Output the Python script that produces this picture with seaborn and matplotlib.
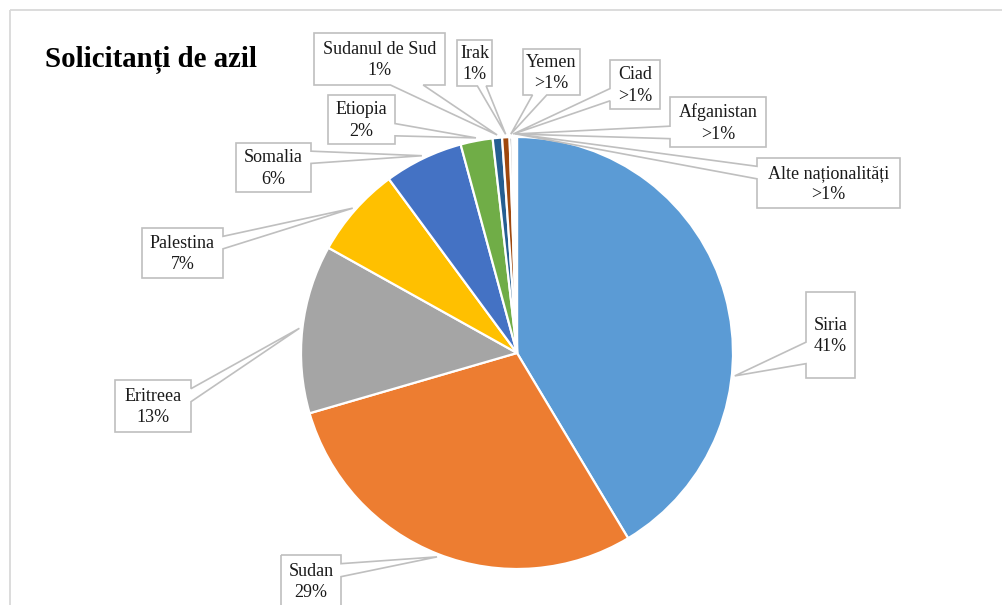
import numpy as np
import matplotlib
matplotlib.use("Agg")
import matplotlib.pyplot as plt
from matplotlib.patches import Polygon, Rectangle
import seaborn as sns

# Asylum seekers by nationality (% share)
countries = ["Siria", "Sudan", "Eritreea", "Palestina", "Somalia", "Etiopia",
             "Sudanul de Sud", "Irak", "Yemen", "Ciad", "Afganistan",
             "Alte naționalități"]
shares = [41.4, 29.1, 12.6, 6.8, 5.9, 2.4, 0.7, 0.55, 0.2, 0.15, 0.1, 0.1]
slice_colors = ["#5B9BD5", "#ED7D31", "#A5A5A5", "#FFC000", "#4472C4", "#70AD47",
                "#255E91", "#9E480E", "#636363", "#997300", "#264478", "#43682B"]
title = "Solicitanți de azil"

# Callout boxes in pixel coordinates (left, top, right, bottom)
label_boxes = {
    "Siria": (806, 292, 855, 378),
    "Sudan": (281, 555, 341, 607),
    "Eritreea": (115, 380, 191, 432),
    "Palestina": (142, 228, 223, 278),
    "Somalia": (236, 143, 311, 192),
    "Etiopia": (328, 95, 395, 144),
    "Sudanul de Sud": (314, 33, 445, 85),
    "Irak": (457, 40, 492, 86),
    "Yemen": (523, 49, 580, 95),
    "Ciad": (610, 60, 660, 109),
    "Afganistan": (670, 97, 766, 147),
    "Alte naționalități": (757, 158, 900, 208),
}
# Callout pointer angle overrides (degrees clockwise from 12 o'clock)
pointer_angle = {"Siria": 96.0}

W, H = 1003, 605
center = (517, 353)
radius = 216

sns.set_theme(style="white")
plt.rcParams["font.family"] = ["Liberation Serif", "DejaVu Serif"]
palette = sns.color_palette(slice_colors)

fig = plt.figure(figsize=(W / 100, H / 100), dpi=100)
ax = fig.add_axes([0, 0, 1, 1])

# y axis points down so that layout is expressed in pixel rows
ax.pie(shares, colors=palette, center=center, radius=radius,
       startangle=270, counterclock=True, frame=False,
       wedgeprops=dict(edgecolor="white", linewidth=1.6))
ax.set_xlim(0, W)
ax.set_ylim(H, 0)
ax.set_aspect("auto")
ax.axis("off")

# chart area border
ax.add_patch(Rectangle((10, 10), W + 50, H + 50, fill=False,
                       edgecolor="#D9D9D9", linewidth=1.3, zorder=1))

ax.text(45, 67, title, fontsize=20.8, fontweight="bold", ha="left",
        va="baseline", color="black")


def callout_polygon(box, tip):
    x0, y0, x1, y1 = box
    w, h = x1 - x0, y1 - y0
    xc, yc = (x0 + x1) / 2, (y0 + y1) / 2
    dx, dy = tip[0] - xc, tip[1] - yc
    if abs(dx) * h > abs(dy) * w:
        ya, yb = (y0 + 7 * h / 12, y0 + 10 * h / 12) if dy > 0 else (y0 + 2 * h / 12, y0 + 5 * h / 12)
        if dx > 0:
            pts = [(x0, y0), (x1, y0), (x1, ya), tip, (x1, yb), (x1, y1), (x0, y1)]
        else:
            pts = [(x0, y0), (x1, y0), (x1, y1), (x0, y1), (x0, yb), tip, (x0, ya)]
    else:
        xa, xb = (x0 + 7 * w / 12, x0 + 10 * w / 12) if dx > 0 else (x0 + 2 * w / 12, x0 + 5 * w / 12)
        if dy < 0:
            pts = [(x0, y0), (xa, y0), tip, (xb, y0), (x1, y0), (x1, y1), (x0, y1)]
        else:
            pts = [(x0, y0), (x1, y0), (x1, y1), (xb, y1), tip, (xa, y1), (x0, y1)]
    return pts


cum = np.cumsum([0] + shares)
total = cum[-1]
for i, (name, val) in enumerate(zip(countries, shares)):
    mid = (cum[i] + val / 2) / total * 360.0
    ang = np.deg2rad(pointer_angle.get(name, mid))
    r = radius + 3
    tip = (center[0] + r * np.sin(ang), center[1] - r * np.cos(ang))
    box = label_boxes[name]
    pts = callout_polygon(box, tip)
    ax.add_patch(Polygon(pts, closed=True, facecolor="white", edgecolor="none", zorder=3))
    ax.add_patch(Polygon(pts, closed=True, facecolor="none", edgecolor="#BFBFBF",
                         linewidth=1.2, zorder=4))
    pct = f"{val:.0f}%" if val >= 0.5 else ">1%"
    ax.text((box[0] + box[2]) / 2, (box[1] + box[3]) / 2 + 1, f"{name}\n{pct}",
            ha="center", va="center", multialignment="center",
            fontsize=13, linespacing=1.35, color="#1a1a1a", zorder=5)

fig.savefig("out.png", dpi=100)
